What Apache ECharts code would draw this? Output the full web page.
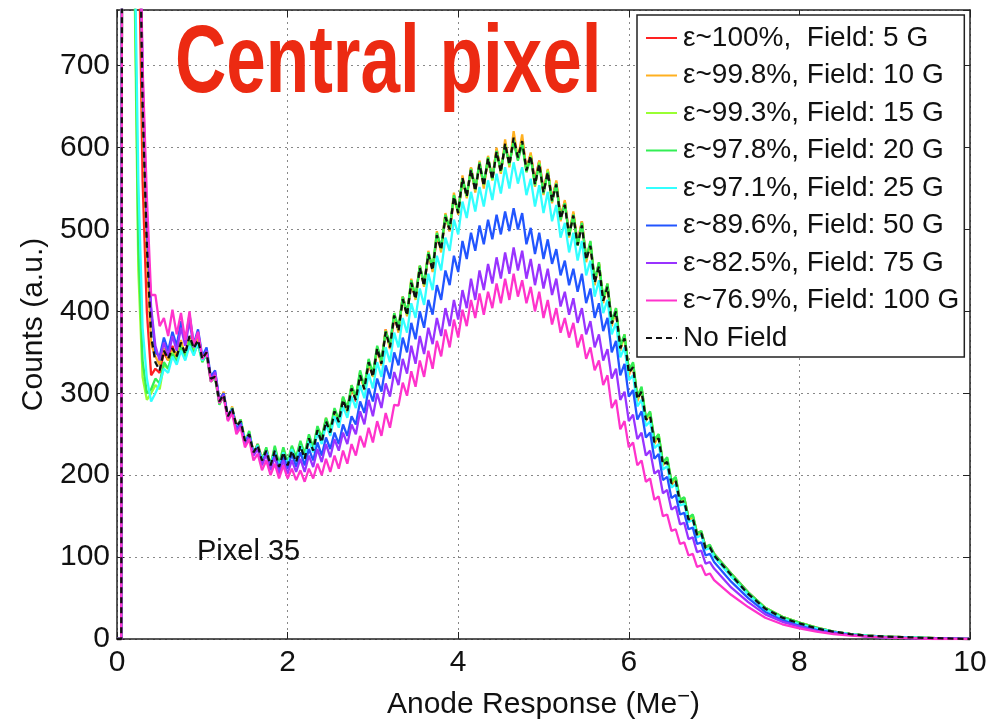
<!DOCTYPE html>
<html><head><meta charset="utf-8">
<script src="https://cdn.jsdelivr.net/npm/echarts@6/dist/echarts.min.js"></script>
<style>html,body{margin:0;padding:0;background:#fff}#chart{width:993px;height:726px}</style>
</head><body><div id="chart"></div>
<script>
// Anode response (Me-) sample positions shared by all curves
const xs = [0, 0.05, 0.07, 0.1, 0.15, 0.2, 0.25,
  0.3, 0.35, 0.4, 0.45, 0.5, 0.55, 0.6, 0.65, 0.7, 0.75,
  0.8, 0.85, 0.9, 0.95, 1.0, 1.05, 1.1, 1.15, 1.2, 1.25,
  1.3, 1.35, 1.4, 1.45, 1.5, 1.55, 1.6, 1.65, 1.7, 1.75,
  1.8, 1.85, 1.9, 1.95, 2.0, 2.05, 2.1, 2.15, 2.2, 2.25,
  2.3, 2.35, 2.4, 2.45, 2.5, 2.55, 2.6, 2.65, 2.7, 2.75,
  2.8, 2.85, 2.9, 2.95, 3.0, 3.05, 3.1, 3.15, 3.2, 3.25,
  3.3, 3.35, 3.4, 3.45, 3.5, 3.55, 3.6, 3.65, 3.7, 3.75,
  3.8, 3.85, 3.9, 3.95, 4.0, 4.05, 4.1, 4.15, 4.2, 4.25,
  4.3, 4.35, 4.4, 4.45, 4.5, 4.55, 4.6, 4.65, 4.7, 4.75,
  4.8, 4.85, 4.9, 4.95, 5.0, 5.05, 5.1, 5.15, 5.2, 5.25,
  5.3, 5.35, 5.4, 5.45, 5.5, 5.55, 5.6, 5.65, 5.7, 5.75,
  5.8, 5.85, 5.9, 5.95, 6.0, 6.05, 6.1, 6.15, 6.2, 6.25,
  6.3, 6.35, 6.4, 6.45, 6.5, 6.55, 6.6, 6.65, 6.7, 6.75,
  6.8, 6.85, 6.9, 6.95, 7.0,
  7.2, 7.4, 7.6, 7.8, 8.0, 8.2, 8.4, 8.6, 8.8, 9.0, 9.3, 9.6, 10];

const seriesNames = ['ε~100%,  Field: 5 G', 'ε~99.8%, Field: 10 G', 'ε~99.3%, Field: 15 G',
  'ε~97.8%, Field: 20 G', 'ε~97.1%, Field: 25 G', 'ε~89.6%, Field: 50 G',
  'ε~82.5%, Field: 75 G', 'ε~76.9%, Field: 100 G', 'No Field'];

const field5G = [0, 0, 2000, 2000, 2000, 1500, 900,
  560, 400, 322, 330, 325, 350, 340, 358, 342, 360,
  350, 368, 352, 362, 345, 348, 320, 322, 292, 300,
  270, 280, 262, 264, 240, 252, 226, 238, 220, 228,
  214, 228, 212, 226, 214, 232, 218, 238, 222, 243,
  232, 252, 242, 268, 254, 276, 266, 294, 280, 308,
  290, 324, 306, 336, 322, 352, 338, 378, 356, 392,
  378, 418, 398, 432, 418, 455, 433, 468, 452, 490,
  478, 518, 498, 538, 522, 560, 542, 575, 550, 578,
  555, 585, 563, 598, 572, 602, 580, 608, 586, 610,
  575, 592, 560, 584, 548, 572, 538, 558, 516, 534,
  495, 520, 484, 510, 466, 482, 438, 458, 415, 432,
  388, 398, 356, 370, 328, 334, 296, 305, 270, 275,
  243, 247, 215, 219, 192, 196, 170, 172, 148, 150,
  130, 131, 113, 114, 104,
  80, 57, 38, 27, 20, 14, 9, 6, 4, 3, 2, 1, 0];

const field10G = [0, 0, 2000, 2000, 2000, 1600, 1000,
  640, 470, 360, 345, 335, 355, 340, 352, 348, 365,
  345, 366, 350, 368, 340, 352, 315, 322, 288, 302,
  270, 284, 258, 268, 244, 248, 230, 234, 220, 232,
  214, 232, 212, 230, 214, 234, 218, 240, 222, 246,
  232, 256, 242, 270, 250, 280, 264, 295, 276, 310,
  292, 325, 304, 340, 320, 356, 334, 378, 354, 398,
  374, 418, 394, 440, 414, 456, 430, 474, 448, 498,
  472, 520, 498, 545, 518, 566, 538, 576, 545, 584,
  550, 590, 560, 600, 568, 610, 576, 620, 586, 616,
  570, 594, 552, 584, 542, 574, 532, 560, 510, 536,
  490, 522, 480, 510, 460, 485, 432, 460, 410, 434,
  382, 404, 352, 372, 322, 336, 290, 306, 266, 276,
  238, 248, 212, 220, 188, 196, 166, 170, 145, 149,
  126, 130, 110, 113, 101,
  78, 56, 37, 26, 19, 13, 9, 6, 4, 3, 2, 1, 0];

const field15G = [0, 0, 2000, 2000, 1500, 850, 450,
  320, 292, 300, 310, 305, 335, 330, 350, 340, 358,
  345, 366, 352, 362, 340, 346, 316, 318, 288, 296,
  272, 280, 260, 266, 242, 252, 228, 236, 220, 232,
  210, 234, 212, 232, 214, 234, 220, 240, 224, 248,
  232, 258, 244, 268, 254, 280, 266, 294, 280, 308,
  294, 326, 306, 340, 322, 356, 338, 376, 358, 396,
  378, 416, 396, 436, 416, 454, 432, 472, 452, 494,
  476, 516, 500, 540, 520, 562, 540, 574, 548, 580,
  554, 588, 560, 596, 570, 604, 578, 610, 586, 606,
  572, 590, 556, 582, 546, 572, 536, 556, 514, 532,
  494, 518, 482, 508, 464, 484, 436, 458, 414, 432,
  386, 402, 356, 370, 326, 336, 294, 306, 268, 276,
  242, 250, 214, 220, 191, 197, 168, 172, 147, 151,
  128, 131, 111, 114, 103,
  79, 56, 38, 27, 20, 14, 9, 6, 4, 3, 2, 1, 0];

const field20G = [0, 0, 2000, 2000, 1600, 880, 480,
  340, 300, 305, 318, 312, 338, 330, 348, 338, 356,
  342, 364, 348, 360, 338, 348, 314, 320, 286, 298,
  268, 282, 258, 268, 240, 254, 226, 238, 218, 234,
  212, 236, 214, 234, 216, 236, 222, 242, 226, 250,
  234, 260, 246, 270, 256, 282, 268, 296, 282, 310,
  296, 328, 308, 342, 324, 358, 340, 376, 360, 398,
  380, 418, 398, 438, 418, 456, 434, 472, 454, 496,
  478, 518, 502, 542, 522, 562, 542, 574, 550, 582,
  556, 588, 562, 596, 572, 602, 580, 608, 584, 604,
  570, 588, 554, 580, 544, 570, 534, 556, 512, 532,
  492, 518, 480, 508, 464, 486, 438, 460, 416, 434,
  388, 404, 358, 372, 328, 338, 296, 308, 270, 278,
  244, 250, 216, 222, 193, 198, 170, 173, 148, 152,
  129, 132, 112, 115, 104,
  80, 57, 38, 27, 20, 14, 9, 6, 4, 3, 2, 1, 0];

const field25G = [0, 0, 2000, 2000, 1600, 900, 560,
  380, 318, 290, 300, 312, 330, 325, 345, 335, 352,
  340, 358, 346, 362, 340, 348, 318, 322, 290, 298,
  270, 282, 258, 266, 242, 250, 228, 236, 218, 230,
  212, 230, 210, 228, 212, 232, 216, 236, 220, 242,
  228, 252, 238, 262, 248, 272, 258, 284, 270, 296,
  282, 310, 294, 324, 306, 338, 320, 356, 338, 374,
  356, 392, 374, 410, 392, 428, 408, 446, 426, 468,
  450, 490, 474, 512, 494, 534, 514, 546, 522, 552,
  528, 560, 536, 568, 544, 576, 550, 582, 556, 576,
  542, 562, 528, 554, 520, 546, 510, 530, 490, 508,
  472, 496, 462, 486, 444, 462, 418, 438, 398, 414,
  372, 386, 344, 356, 316, 322, 284, 292, 260, 266,
  233, 238, 207, 211, 185, 189, 163, 165, 143, 145,
  124, 127, 109, 111, 100,
  76, 54, 36, 25, 18, 13, 9, 6, 4, 3, 2, 1, 0];

const field50G = [0, 0, 2000, 2000, 2000, 1600, 1000,
  680, 500, 400, 350, 345, 368, 352, 375, 358, 388,
  362, 396, 360, 378, 345, 356, 320, 328, 292, 300,
  272, 280, 256, 264, 240, 250, 226, 234, 214, 228,
  208, 226, 206, 224, 208, 226, 210, 228, 212, 232,
  218, 240, 224, 246, 232, 252, 238, 262, 248, 272,
  262, 290, 276, 306, 290, 318, 302, 334, 318, 350,
  334, 368, 350, 386, 366, 400, 380, 414, 396, 432,
  414, 450, 432, 468, 448, 486, 464, 496, 474, 505,
  482, 512, 488, 518, 494, 522, 498, 526, 500, 520,
  482, 502, 470, 496, 464, 488, 458, 476, 444, 462,
  432, 452, 424, 446, 410, 428, 392, 410, 376, 392,
  350, 364, 322, 336, 296, 304, 268, 278, 246, 252,
  220, 226, 194, 198, 172, 176, 152, 154, 134, 136,
  116, 118, 102, 104, 94,
  70, 50, 33, 23, 16, 11, 8, 5, 3, 2, 1, 1, 0];

const field75G = [0, 0, 2000, 2000, 2000, 1600, 1000,
  690, 510, 405, 358, 340, 362, 345, 370, 352, 380,
  358, 388, 356, 375, 342, 352, 316, 326, 290, 298,
  268, 278, 254, 262, 238, 248, 224, 232, 212, 226,
  206, 222, 202, 218, 202, 218, 204, 220, 204, 224,
  210, 232, 216, 238, 222, 244, 230, 252, 238, 262,
  250, 278, 262, 292, 272, 300, 282, 312, 296, 326,
  310, 342, 324, 358, 336, 370, 348, 380, 360, 392,
  370, 404, 382, 414, 390, 426, 404, 440, 414, 450,
  426, 458, 434, 466, 440, 472, 446, 478, 450, 474,
  440, 464, 432, 458, 428, 452, 420, 440, 406, 424,
  396, 416, 386, 404, 372, 388, 356, 372, 340, 354,
  318, 330, 292, 302, 266, 274, 244, 252, 224, 230,
  202, 206, 178, 182, 158, 162, 140, 142, 122, 124,
  106, 108, 92, 94, 86,
  63, 45, 30, 21, 15, 10, 7, 5, 3, 2, 1, 1, 0];

const field100G = [0, 0, 2000, 2000, 2000, 1600, 1000,
  700, 540, 420, 420, 382, 392, 370, 402, 372, 398,
  365, 400, 358, 375, 342, 350, 314, 322, 288, 296,
  266, 276, 250, 258, 234, 244, 218, 226, 206, 218,
  200, 214, 196, 212, 196, 208, 194, 206, 192, 208,
  196, 214, 200, 220, 204, 224, 208, 230, 214, 238,
  224, 248, 234, 258, 240, 266, 248, 276, 258, 286,
  285, 313, 297, 327, 308, 340, 320, 352, 330, 364,
  345, 378, 356, 390, 368, 402, 382, 414, 392, 422,
  396, 424, 404, 434, 410, 440, 414, 446, 418, 438,
  410, 430, 400, 424, 392, 414, 384, 404, 374, 392,
  368, 386, 356, 372, 342, 356, 328, 340, 310, 322,
  282, 292, 256, 266, 234, 240, 212, 218, 192, 196,
  170, 174, 150, 152, 132, 134, 116, 118, 102, 104,
  88, 90, 78, 80, 72,
  54, 39, 26, 18, 13, 9, 6, 4, 3, 2, 1, 0, 0];

const noField = [0, 0, 2000, 2000, 2000, 1600, 1000,
  650, 480, 370, 338, 328, 352, 342, 355, 345, 362,
  348, 370, 355, 365, 342, 350, 318, 320, 290, 298,
  272, 282, 260, 266, 242, 250, 228, 236, 218, 230,
  212, 230, 210, 228, 212, 230, 216, 236, 220, 245,
  230, 255, 240, 266, 252, 278, 265, 292, 278, 306,
  292, 322, 305, 338, 320, 355, 336, 375, 356, 395,
  376, 415, 395, 435, 415, 453, 431, 470, 450, 493,
  475, 515, 500, 540, 520, 563, 540, 573, 547, 580,
  553, 587, 561, 595, 570, 605, 579, 612, 588, 608,
  572, 590, 555, 580, 545, 570, 535, 555, 513, 530,
  493, 517, 481, 505, 463, 480, 435, 455, 413, 430,
  385, 400, 355, 367, 325, 332, 293, 302, 268, 272,
  240, 245, 213, 216, 190, 193, 167, 168, 146, 147,
  127, 129, 111, 112, 102,
  78, 55, 37, 26, 19, 13, 9, 6, 4, 3, 2, 1, 0];

const xTicks = [0, 2, 4, 6, 8, 10];
const yTicks = [0, 100, 200, 300, 400, 500, 600, 700];

const allValues = [field5G, field10G, field15G, field20G, field25G, field50G, field75G, field100G, noField];
const colors = ['#ff2222', '#ffb020', '#99ff33', '#33ee55', '#33ffff', '#2255ff', '#9933ff', '#ff33cc', '#111111'];
const FONT = '"Liberation Sans", Arial, Helvetica, sans-serif';

const chart = echarts.init(document.getElementById('chart'), null, {renderer: 'canvas'});

const series = allValues.map((vals, i) => ({
  name: seriesNames[i],
  type: 'line',
  data: xs.map((x, j) => [x, vals[j]]),
  symbol: 'none',
  showSymbol: false,
  clip: true,
  silent: true,
  z: 2 + i,
  lineStyle: {color: colors[i], width: 2.3, type: i === 8 ? [6, 4] : 'solid'},
  itemStyle: {color: colors[i]}
}));

const axisCommonLine = {show: true, onZero: false, lineStyle: {color: '#222', width: 1.5}};

chart.setOption({
  animation: false,
  backgroundColor: '#fff',
  grid: {left: 117, right: 23, top: 10, bottom: 87, containLabel: false},
  xAxis: [{
    type: 'value', min: xTicks[0], max: xTicks[xTicks.length - 1], interval: xTicks[1] - xTicks[0],
    position: 'bottom',
    axisLine: axisCommonLine,
    axisTick: {show: true, inside: true, length: 7, lineStyle: {color: '#222', width: 1}},
    axisLabel: {fontSize: 30, color: '#111', margin: 9, fontFamily: FONT},
    splitLine: {show: true, lineStyle: {type: [2, 4], color: '#888', width: 1}},
    name: 'Anode Response (Me{sup|−})',
    nameLocation: 'middle', nameGap: 47,
    nameTextStyle: {fontSize: 30, color: '#111', fontFamily: FONT,
      rich: {sup: {fontSize: 22, color: '#111', fontFamily: FONT, verticalAlign: 'top', padding: [0, 0, 16, 0]}}}
  }, {
    type: 'value', min: xTicks[0], max: xTicks[xTicks.length - 1], interval: xTicks[1] - xTicks[0],
    position: 'top',
    axisLine: axisCommonLine,
    axisTick: {show: true, inside: true, length: 7, lineStyle: {color: '#222', width: 1}},
    axisLabel: {show: false}, splitLine: {show: false}
  }],
  yAxis: [{
    type: 'value', min: 0, max: 768, interval: yTicks[1] - yTicks[0],
    position: 'left',
    axisLine: axisCommonLine,
    axisTick: {show: true, inside: true, length: 7, lineStyle: {color: '#222', width: 1}},
    axisLabel: {fontSize: 30, color: '#111', margin: 7, fontFamily: FONT, showMaxLabel: false,
      formatter: v => (yTicks.indexOf(v) >= 0 ? String(v) : '')},
    splitLine: {show: true, lineStyle: {type: [2, 4], color: '#888', width: 1}},
    name: 'Counts (a.u.)', nameLocation: 'middle', nameGap: 66, nameRotate: 90,
    nameTextStyle: {fontSize: 30, color: '#111', fontFamily: FONT}
  }, {
    type: 'value', min: 0, max: 768, interval: yTicks[1] - yTicks[0],
    position: 'right',
    axisLine: axisCommonLine,
    axisTick: {show: true, inside: true, length: 7, lineStyle: {color: '#222', width: 1}},
    axisLabel: {show: false}, splitLine: {show: false}
  }],
  legend: {
    show: true,
    orient: 'vertical',
    left: 637, top: 15,
    data: seriesNames,
    itemWidth: 31, itemHeight: 14, itemGap: 7.5,
    padding: [8, 5, 4, 8],
    backgroundColor: '#fff',
    borderColor: '#222', borderWidth: 1.5,
    itemStyle: {color: 'rgba(0,0,0,0)', borderWidth: 0, opacity: 0},
    textStyle: {fontSize: 28, color: '#111', fontFamily: FONT, lineHeight: 30, padding: [0, 0, 0, 1]},
    selectedMode: false
  },
  graphic: [{
    type: 'text', x: 175, y: 18, scaleX: 0.74, z: 100,
    style: {text: 'Central pixel', font: 'bold 96px "Liberation Sans", Arial, sans-serif', fill: '#ec2a12', verticalAlign: 'top', align: 'left'}
  }, {
    type: 'text', x: 197, y: 537, z: 100,
    style: {text: 'Pixel 35', font: '29px "Liberation Sans", Arial, sans-serif', fill: '#111', verticalAlign: 'top', align: 'left'}
  }],
  series: series
});
</script>
</body></html>
